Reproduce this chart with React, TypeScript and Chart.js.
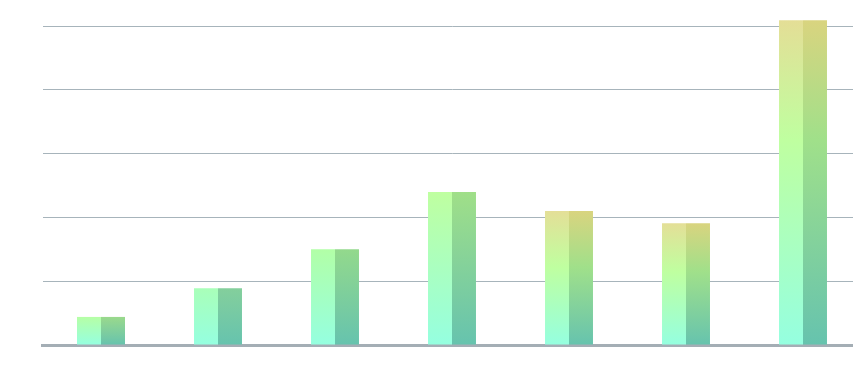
import React, { useEffect, useRef } from "react";
import { Chart, registerables } from "chart.js";

Chart.register(...registerables);

const categories = ["1", "2", "3", "4", "5", "6", "7"];
const values = [44, 89, 150, 240, 210, 191, 509];
const yMax = 500;
const yStep = 100;

// per-bar gradient stops (front/left face), bottom -> top
const frontStops: [number, string][][] = [
  [[0, "#95ffe0"], [1, "#b6ffa6"]],
  [[0, "#95ffe0"], [1, "#a9ffb9"]],
  [[0, "#95ffe0"], [1, "#b2ffa7"]],
  [[0, "#95ffe0"], [1, "#bfffa0"]],
  [[0, "#95ffe0"], [0.58, "#bfffa0"], [1, "#e4df97"]],
  [[0, "#95ffe0"], [0.6, "#bfffa0"], [1, "#e4df97"]],
  [[0, "#95ffe0"], [0.63, "#bfffa0"], [1, "#e4de96"]],
];
// side/right face
const sideStops: [number, string][][] = [
  [[0, "#66c3ae"], [1, "#9ad98c"]],
  [[0, "#66c3ae"], [1, "#84cf9c"]],
  [[0, "#66c3ae"], [1, "#93d98c"]],
  [[0, "#66c3ae"], [1, "#a0df88"]],
  [[0, "#66c3ae"], [0.58, "#a0e08a"], [1, "#d9d47f"]],
  [[0, "#66c3ae"], [0.6, "#a0e08a"], [1, "#d9d47f"]],
  [[0, "#66c3ae"], [0.63, "#a0e08a"], [1, "#d9d47f"]],
];

function makeBg(stopsList: [number, string][][]) {
  return (c: any) => {
    const chart = c.chart;
    if (!chart.chartArea || c.type !== "data") return "#95ffe0";
    const y = chart.scales.y;
    const i = c.dataIndex;
    const top = y.getPixelForValue(values[i]);
    const bottom = y.getPixelForValue(0);
    const g = chart.ctx.createLinearGradient(0, bottom, 0, top);
    for (const [o, col] of stopsList[i]) g.addColorStop(o, col);
    return g;
  };
}

export default function App() {
  const ref = useRef<HTMLCanvasElement>(null);
  useEffect(() => {
    const chart = new Chart(ref.current!, {
      type: "bar",
      data: {
        labels: categories,
        datasets: [
          {
            data: values,
            backgroundColor: makeBg(frontStops),
            borderWidth: 0,
            barPercentage: 1,
            categoryPercentage: 0.41,
            clip: false as any,
          },
          {
            data: values,
            backgroundColor: makeBg(sideStops),
            borderWidth: 0,
            barPercentage: 1,
            categoryPercentage: 0.41,
            clip: false as any,
          },
        ],
      },
      options: {
        animation: false,
        responsive: true,
        maintainAspectRatio: false,
        layout: { padding: { left: 34.5, top: 18, right: 16.5, bottom: 26 } },
        plugins: { legend: { display: false }, tooltip: { enabled: false } },
        scales: {
          x: {
            ticks: { display: false },
            grid: { display: false },
            border: { display: true, color: "#a4aeb5", width: 3 },
          },
          y: {
            min: 0,
            max: yMax,
            ticks: { display: false, stepSize: yStep },
            grid: { color: "#a7b4bb", lineWidth: 1, drawTicks: false },
            border: { display: false },
          },
        },
      },
    });
    return () => chart.destroy();
  }, []);
  return (
    <div
      style={{
        position: "fixed",
        left: 0,
        top: 0,
        width: 853,
        height: 379,
        overflow: "hidden",
      }}
    >
      <div style={{ position: "absolute", left: 8, top: 8, width: 870, height: 371 }}>
        <canvas ref={ref} />
      </div>
    </div>
  );
}
